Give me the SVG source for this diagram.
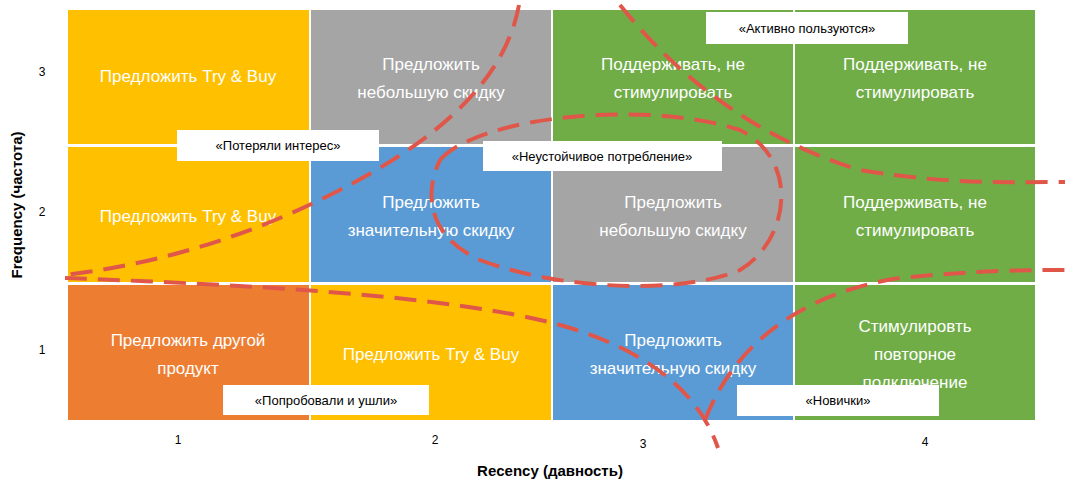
<svg xmlns="http://www.w3.org/2000/svg" width="1075" height="485" viewBox="0 0 1075 485">
<style>
.c{stroke:none}
.t{font-family:"Liberation Sans",Arial,sans-serif;font-size:17px;fill:#fff;text-anchor:middle}
.l{font-family:"Liberation Sans",Arial,sans-serif;font-size:13px;fill:#000;text-anchor:middle}
.b{fill:#fff;stroke:none}
.ax{font-family:"Liberation Sans",Arial,sans-serif;font-size:12px;fill:#000;text-anchor:middle}
.at{font-family:"Liberation Sans",Arial,sans-serif;font-size:15px;font-weight:bold;fill:#000;text-anchor:middle}
.d{fill:none;stroke:#E0574A;stroke-width:4;stroke-dasharray:22 11}
</style>
<rect width="1075" height="485" fill="#fff"/>
<g id="r1c1"><rect x="68" y="10" width="241" height="134" fill="#FFC000"/><text class="t" x="188" y="82">Предложить Try &amp; Buy</text></g>
<g id="r1c2"><rect x="311" y="10" width="240" height="134" fill="#A5A5A5"/><text class="t" x="431" y="70">Предложить</text><text class="t" x="431" y="98">небольшую скидку</text></g>
<g id="r1c3"><rect x="553" y="10" width="240" height="134" fill="#70AD47"/><text class="t" x="673" y="70">Поддерживать, не</text><text class="t" x="673" y="98">стимулировать</text></g>
<g id="r1c4"><rect x="795" y="10" width="240" height="134" fill="#70AD47"/><text class="t" x="915" y="70">Поддерживать, не</text><text class="t" x="915" y="98">стимулировать</text></g>
<g id="r2c1"><rect x="68" y="147" width="241" height="135" fill="#FFC000"/><text class="t" x="188" y="222">Предложить Try &amp; Buy</text></g>
<g id="r2c2"><rect x="311" y="147" width="240" height="135" fill="#5B9BD5"/><text class="t" x="431" y="208">Предложить</text><text class="t" x="431" y="236">значительную скидку</text></g>
<g id="r2c3"><rect x="553" y="147" width="240" height="135" fill="#A5A5A5"/><text class="t" x="673" y="208">Предложить</text><text class="t" x="673" y="236">небольшую скидку</text></g>
<g id="r2c4"><rect x="795" y="147" width="240" height="135" fill="#70AD47"/><text class="t" x="915" y="208">Поддерживать, не</text><text class="t" x="915" y="236">стимулировать</text></g>
<g id="r3c1"><rect x="68" y="285" width="241" height="135" fill="#ED7D31"/><text class="t" x="188" y="346">Предложить другой</text><text class="t" x="188" y="374">продукт</text></g>
<g id="r3c2"><rect x="311" y="285" width="240" height="135" fill="#FFC000"/><text class="t" x="431" y="360">Предложить Try &amp; Buy</text></g>
<g id="r3c3"><rect x="553" y="285" width="240" height="135" fill="#5B9BD5"/><text class="t" x="673" y="346">Предложить</text><text class="t" x="673" y="374">значительную скидку</text></g>
<g id="r3c4"><rect x="795" y="285" width="240" height="135" fill="#70AD47"/><text class="t" x="915" y="332">Стимулировть</text><text class="t" x="915" y="360">повторное</text><text class="t" x="915" y="388">подключение</text></g>
<g id="connectors">
<path class="d" d="M519,5 C505,80 440,140 330,195 C240,240 150,265 65,275"/>
<path class="d" d="M65,278 C250,285 450,295 560,325 C650,350 700,395 718,448"/>
<path class="d" d="M620,5 C680,80 760,140 860,170 C950,185 1010,182 1065,182"/>
<path class="d" d="M440,160 C480,115 650,100 740,130 C800,160 790,240 740,270 C680,295 560,290 480,260 C425,235 425,190 440,160"/>
<path class="d" d="M705,420 C740,330 820,290 900,278 C980,270 1030,270 1068,270"/>
</g>
<g id="lbl1"><rect class="b" x="706" y="12" width="202" height="32"/><text class="l" x="807" y="33">«Активно пользуются»</text></g>
<g id="lbl2"><rect class="b" x="177" y="130" width="202" height="31"/><text class="l" x="278" y="150">«Потеряли интерес»</text></g>
<g id="lbl3"><rect class="b" x="483" y="141" width="239" height="30"/><text class="l" x="602" y="161">«Неустойчивое потребление»</text></g>
<g id="lbl4"><rect class="b" x="223" y="385" width="206" height="30"/><text class="l" x="326" y="405">«Попробовали и ушли»</text></g>
<g id="lbl5"><rect class="b" x="737" y="385" width="202" height="31"/><text class="l" x="838" y="405">«Новички»</text></g>
<g id="axes">
<text class="ax" x="42" y="76">3</text><text class="ax" x="42" y="216">2</text><text class="ax" x="42" y="354">1</text>
<text class="ax" x="178" y="444">1</text><text class="ax" x="435" y="444">2</text><text class="ax" x="643" y="448">3</text><text class="ax" x="925" y="446">4</text>
<text class="at" x="550" y="476">Recency (давность)</text>
<text class="at" transform="translate(22,205) rotate(-90)">Frequency (частота)</text>
</g>
</svg>
